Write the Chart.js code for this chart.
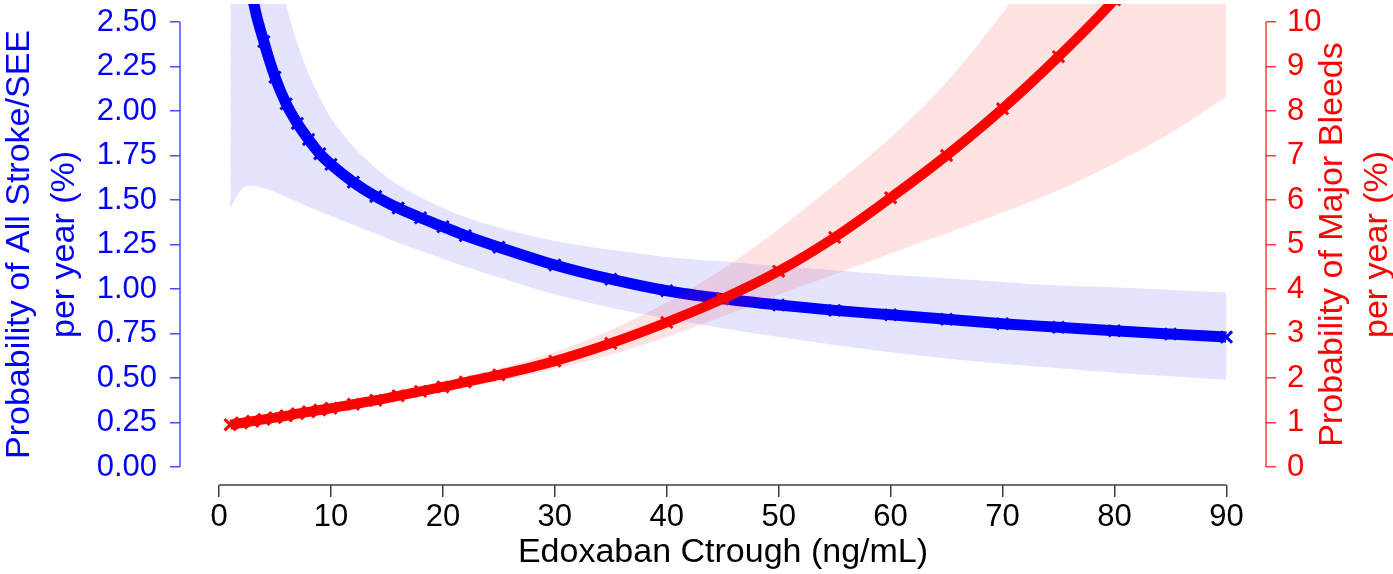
<!DOCTYPE html>
<html>
<head>
<meta charset="utf-8">
<script src="https://cdn.jsdelivr.net/npm/chart.js@4.4.0/dist/chart.umd.min.js"></script>
<style>
html,body{margin:0;padding:0;background:#fff;}
#wrap{width:1393px;height:574px;}
</style>
</head>
<body>
<div id="wrap"><canvas id="c" width="1393" height="574"></canvas></div>
<script>
// Edoxaban trough concentration (ng/mL)
const concX = [1,2,3,4,5,6,7,8,9,10,12,14,16,18,20,22,25,30,35,40,45,50,55,60,65,70,75,80,85,90];
// Probability of All Stroke/SEE per year (%) - left axis
const strokeMid = [4.0,3.15,2.64,2.39,2.19,2.04,1.93,1.84,1.76,1.70,1.60,1.52,1.455,1.40,1.35,1.30,1.235,1.135,1.055,0.99,0.945,0.91,0.88,0.855,0.83,0.805,0.785,0.765,0.747,0.73];
const strokeLo  = [1.45,1.56,1.58,1.565,1.545,1.515,1.49,1.46,1.435,1.41,1.36,1.31,1.26,1.215,1.17,1.125,1.065,0.97,0.895,0.835,0.78,0.73,0.685,0.645,0.61,0.58,0.555,0.53,0.51,0.49];
const strokeHi  = [6.2,4.8,3.9,3.3,2.9,2.60,2.38,2.21,2.075,1.96,1.80,1.68,1.585,1.515,1.455,1.405,1.345,1.27,1.22,1.18,1.155,1.13,1.105,1.08,1.06,1.04,1.02,1.01,0.995,0.98];
// Probability of Major Bleeds per year (%) - right axis
const bleedMid = [0.95,0.99,1.03,1.07,1.11,1.15,1.20,1.24,1.28,1.32,1.41,1.50,1.60,1.70,1.80,1.91,2.07,2.38,2.78,3.25,3.78,4.40,5.16,6.05,7.0,8.05,9.22,10.5,12.0,13.7];
const bleedLo  = [0.91,0.95,0.99,1.03,1.06,1.10,1.15,1.19,1.22,1.26,1.34,1.42,1.51,1.60,1.69,1.79,1.93,2.20,2.52,2.92,3.38,3.87,4.33,4.80,5.25,5.72,6.22,6.82,7.5,8.32];
const bleedHi  = [0.99,1.03,1.07,1.11,1.16,1.20,1.25,1.29,1.34,1.38,1.48,1.58,1.69,1.80,1.91,2.03,2.22,2.58,3.08,3.70,4.45,5.35,6.35,7.4,8.65,10.2,12.0,14.0,16.3,19.0];
// tick labels
const xTicks = [0,10,20,30,40,50,60,70,80,90];
const leftTicks = [0,0.25,0.5,0.75,1,1.25,1.5,1.75,2,2.25,2.5];
const rightTicks = [0,1,2,3,4,5,6,7,8,9,10];
const xTitle = 'Edoxaban Ctrough (ng/mL)';
const leftTitle = ['Probability of All Stroke/SEE','per year (%)'];
const rightTitle = ['Probability of Major Bleeds','per year (%)'];

const pts = ys => concX.map((x,i)=>({x:x,y:ys[i]}));
const FONT = "'Liberation Sans', Arial, sans-serif";

const axisPlugin = {
  id:'axisPlugin',
  afterDraw(chart){
    const {ctx, chartArea:a, scales} = chart;
    const x = scales.x, y = scales.y, y2 = scales.y2;
    ctx.save();
    ctx.lineWidth = 1.5;
    ctx.strokeStyle = '#404040';
    ctx.beginPath();
    ctx.moveTo(x.getPixelForValue(xTicks[0]), a.bottom);
    ctx.lineTo(x.getPixelForValue(xTicks[xTicks.length-1]), a.bottom);
    ctx.stroke();
    ctx.strokeStyle = '#4a4aff';
    ctx.beginPath();
    ctx.moveTo(a.left, y.getPixelForValue(leftTicks[0]));
    ctx.lineTo(a.left, y.getPixelForValue(leftTicks[leftTicks.length-1]));
    ctx.stroke();
    ctx.strokeStyle = '#ff3a3a';
    ctx.beginPath();
    ctx.moveTo(a.right, y2.getPixelForValue(rightTicks[0]));
    ctx.lineTo(a.right, y2.getPixelForValue(rightTicks[rightTicks.length-1]));
    ctx.stroke();
    // rotated titles (both read bottom-to-top)
    const cy = (y.getPixelForValue(leftTicks[0]) + y.getPixelForValue(leftTicks[leftTicks.length-1]))/2;
    ctx.font = '34px ' + FONT;
    ctx.textAlign = 'center';
    ctx.textBaseline = 'middle';
    const drawRot = (txt, cx, color) => {
      ctx.save();
      ctx.translate(cx, cy);
      ctx.rotate(-Math.PI/2);
      ctx.fillStyle = color;
      ctx.fillText(txt, 0, 0);
      ctx.restore();
    };
    drawRot(leftTitle[0], a.left - 160, '#0000ff');
    drawRot(leftTitle[1], a.left - 115, '#0000ff');
    drawRot(rightTitle[0], a.right + 67, '#ff0000');
    drawRot(rightTitle[1], a.right + 112, '#ff0000');
    ctx.restore();
  }
};

const noPad = s => { s.paddingTop = 0; s.paddingBottom = 0; s.paddingLeft = 0; s.paddingRight = 0; };

const lineCommon = {
  showLine:true, cubicInterpolationMode:'monotone', clip:0
};

new Chart(document.getElementById('c'), {
  type:'line',
  data:{
    datasets:[
      Object.assign({}, lineCommon, {label:'strokeHi', data:pts(strokeHi), yAxisID:'y', borderWidth:0, pointRadius:0,
        backgroundColor:'rgba(0,0,255,0.105)', fill:1, order:4}),
      Object.assign({}, lineCommon, {label:'strokeLo', data:pts(strokeLo), yAxisID:'y', borderWidth:0, pointRadius:0,
        fill:false, order:4}),
      Object.assign({}, lineCommon, {label:'stroke', data:pts(strokeMid), yAxisID:'y', borderColor:'#0000ff', borderWidth:11,
        pointStyle:'crossRot', pointRadius:8, pointBorderWidth:3, pointBorderColor:'#0000ff', fill:false, order:3}),
      Object.assign({}, lineCommon, {label:'bleedHi', data:pts(bleedHi), yAxisID:'y2', borderWidth:0, pointRadius:0,
        backgroundColor:'rgba(255,0,0,0.11)', fill:4, order:2}),
      Object.assign({}, lineCommon, {label:'bleedLo', data:pts(bleedLo), yAxisID:'y2', borderWidth:0, pointRadius:0,
        fill:false, order:2}),
      Object.assign({}, lineCommon, {label:'bleed', data:pts(bleedMid), yAxisID:'y2', borderColor:'#ff0000', borderWidth:10,
        pointStyle:'crossRot', pointRadius:8, pointBorderWidth:3, pointBorderColor:'#ff0000', fill:false, order:1})
    ]
  },
  options:{
    responsive:false, animation:false,
    layout:{autoPadding:false, padding:{top:4,left:0,right:0,bottom:0}},
    plugins:{legend:{display:false}, tooltip:{enabled:false}},
    scales:{
      x:{type:'linear', position:'bottom', min:-3.49, max:93.54,
        afterBuildTicks:s=>{s.ticks = xTicks.map(v=>({value:v}));},
        afterFit:s=>{s.height = 89; noPad(s);},
        grid:{drawOnChartArea:false, drawTicks:true, tickLength:12, color:'#404040', lineWidth:1.5},
        border:{display:false},
        ticks:{autoSkip:false, maxRotation:0, color:'#000', padding:2, font:{family:FONT, size:31}},
        title:{display:true, text:xTitle, color:'#000', font:{family:FONT, size:34, lineHeight:1.2}, padding:{top:0,bottom:1}}
      },
      y:{type:'linear', position:'left', min:-0.101, max:2.601,
        afterBuildTicks:s=>{s.ticks = leftTicks.map(v=>({value:v}));},
        afterFit:s=>{s.width = 180; noPad(s);},
        grid:{drawOnChartArea:false, drawTicks:true, tickLength:10, color:'#4a4aff', lineWidth:1.5},
        border:{display:false},
        ticks:{autoSkip:false, color:'#0000ff', padding:13, font:{family:FONT, size:31},
          callback:v=>Number(v).toFixed(2)}
      },
      y2:{type:'linear', position:'right', min:-0.404, max:10.404,
        afterBuildTicks:s=>{s.ticks = rightTicks.map(v=>({value:v}));},
        afterFit:s=>{s.width = 127; noPad(s);},
        grid:{drawOnChartArea:false, drawTicks:true, tickLength:10, color:'#ff3a3a', lineWidth:1.5},
        border:{display:false},
        ticks:{autoSkip:false, color:'#ff0000', padding:11, font:{family:FONT, size:31},
          callback:v=>String(v)}
      }
    }
  },
  plugins:[axisPlugin]
});
</script>
</body>
</html>
